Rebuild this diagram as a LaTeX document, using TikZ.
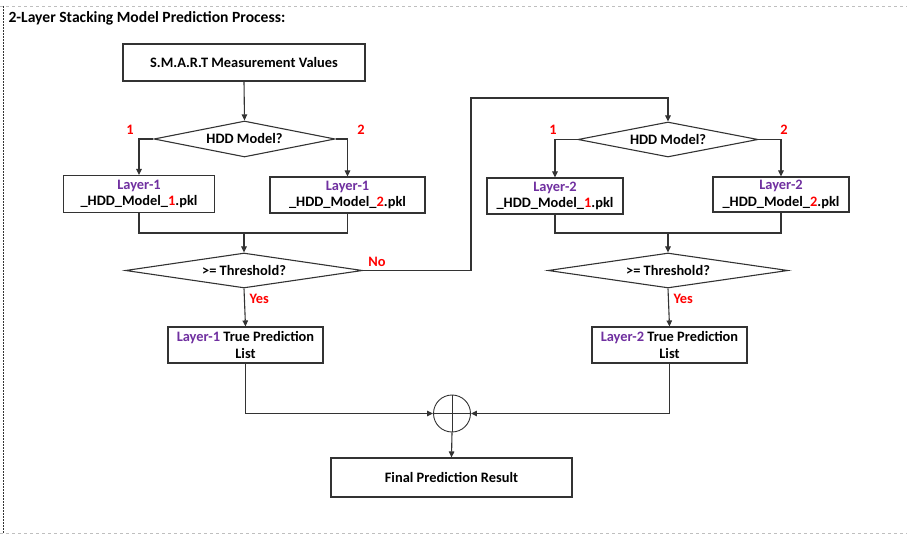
\documentclass[tikz,border=0pt]{standalone}
\usepackage{fontspec}
\setmainfont{Carlito}
\usetikzlibrary{shapes.geometric,arrows.meta}
\definecolor{lpurple}{HTML}{7030A0}
\definecolor{lred}{HTML}{FF0000}
\definecolor{edge}{HTML}{333333}
\begin{document}
\begin{tikzpicture}[x=1pt,y=-1pt,
  every node/.style={font=\bfseries\fontsize{14.4}{16.5}\selectfont},
  box/.style={draw=edge, line width=1.1pt, rectangle, align=center, inner sep=0pt},
  decide/.style={draw=edge, line width=1.1pt, diamond, aspect=5, inner sep=0pt},
  lab/.style={text=lred, font=\bfseries\fontsize{14.4}{16}\selectfont},
  flow/.style={draw=edge, line width=1.1pt},
  arr/.style={flow, -{Triangle[length=6pt,width=5.5pt]}}]
\useasboundingbox (0,0) rectangle (907,534);
% frame
\draw[black!25, dashed, line width=0.6pt] (0,6) -- (907,6);
\draw[black!25, dashed, line width=0.6pt] (0,533) -- (907,533);
\draw[black!80, line width=0.8pt, dash pattern=on 2pt off 1pt] (3,6) -- (3,534);
\node[anchor=west, font=\bfseries\fontsize{15.6}{18}\selectfont] (title) at (5,18) {2-Layer Stacking Model Prediction Process:};

% layer 1
\node[box, minimum width=242pt, minimum height=37pt] (smart) at (244,62.5) {S.M.A.R.T Measurement Values};
\node[decide, minimum width=181pt, minimum height=36pt] (d1) at (244.5,139) {HDD Model?};
\node[box, minimum width=151pt, minimum height=37pt] (b1a) at (139,194) {\textcolor{lpurple}{Layer-1}\\\_HDD\_Model\_\textcolor{lred}{1}.pkl};
\node[box, minimum width=155pt, minimum height=36pt] (b1b) at (347.5,195) {\textcolor{lpurple}{Layer-1}\\\_HDD\_Model\_\textcolor{lred}{2}.pkl};
\node[decide, minimum width=237pt, minimum height=35pt] (d2) at (244,270.5) {>= Threshold?};
\node[box, minimum width=155pt, minimum height=36pt] (l1) at (245.5,345) {\textcolor{lpurple}{Layer-1} True Prediction\\List};

% layer 2
\node[decide, minimum width=180pt, minimum height=35pt] (d3) at (668,139.5) {HDD Model?};
\node[box, minimum width=136pt, minimum height=36pt] (b2a) at (555,196) {\textcolor{lpurple}{Layer-2}\\\_HDD\_Model\_\textcolor{lred}{1}.pkl};
\node[box, minimum width=136pt, minimum height=35pt] (b2b) at (781,194.5) {\textcolor{lpurple}{Layer-2}\\\_HDD\_Model\_\textcolor{lred}{2}.pkl};
\node[decide, minimum width=240pt, minimum height=35pt] (d4) at (668,270.5) {>= Threshold?};
\node[box, minimum width=155pt, minimum height=36pt] (l2) at (669.5,345) {\textcolor{lpurple}{Layer-2} True Prediction\\List};

% combination
\node[draw=edge, line width=0.9pt, circle, minimum size=37pt, inner sep=0pt] (sum) at (452,413.5) {};
\draw[edge, line width=0.9pt] (sum.north) -- (sum.south) (sum.west) -- (sum.east);
\node[box, minimum width=241pt, minimum height=39pt] (final) at (451.5,477.5) {Final Prediction Result};

% branch labels
\node[lab] (n1a) at (130,130) {1};
\node[lab] (n1b) at (361,130) {2};
\node[lab] (no) at (377,262) {No};
\node[lab, anchor=west] (yes1) at (246,299) {Yes};
\node[lab] (n2a) at (553,130) {1};
\node[lab] (n2b) at (784,130) {2};
\node[lab, anchor=west] (yes2) at (670,299) {Yes};

% connectors, layer 1
\draw[arr] (smart.south) -- (d1.north);
\draw[arr] (d1.west) -| (b1a.north);
\draw[arr] (d1.east) -| (b1b.north);
\coordinate (m1) at (244,233);
\draw[flow] (b1a.south) |- (m1) -| (b1b.south);
\draw[arr] (m1) -- (d2.north);
\draw[arr] (d2.south) -- (l1.north);

% "No" path to layer 2
\coordinate (up) at (471,98);
\draw[arr] (d2.east) -| (up) -| (d3.north);

% connectors, layer 2
\draw[arr] (d3.west) -| (b2a.north);
\draw[arr] (d3.east) -| (b2b.north);
\coordinate (m2) at (668,233);
\draw[flow] (b2a.south) |- (m2) -| (b2b.south);
\draw[arr] (m2) -- (d4.north);
\draw[arr] (d4.south) -- (l2.north);

% merge into the sum
\draw[arr] (l1.south) |- (sum.west);
\draw[arr] (l2.south) |- (sum.east);
\draw[arr] (sum.south) -- (final.north);
\end{tikzpicture}
\end{document}
